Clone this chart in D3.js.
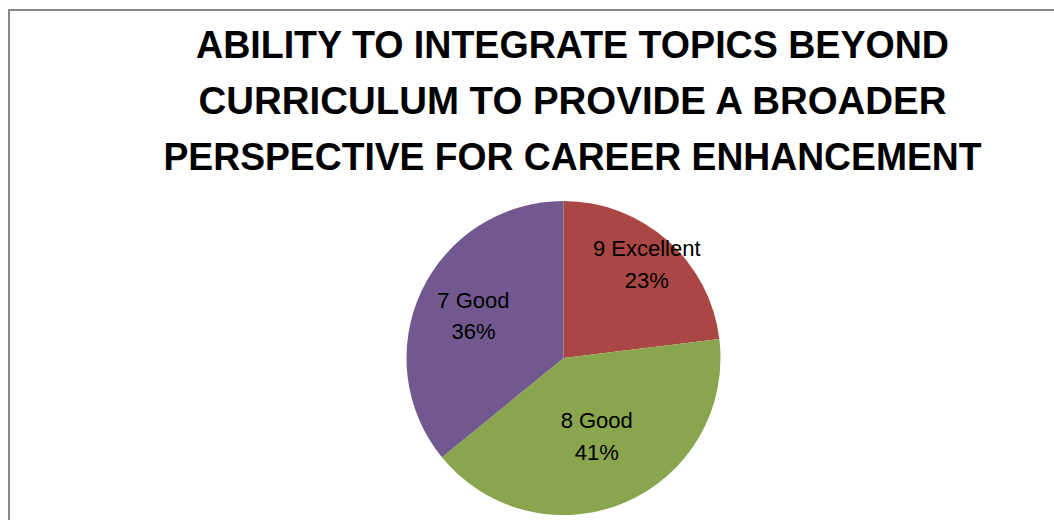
<!DOCTYPE html>
<html>
<head>
<meta charset="utf-8">
<script src="https://cdn.jsdelivr.net/npm/d3@7"></script>
<style>
  body { margin: 0; background: #fff; }
  svg { display: block; }
</style>
</head>
<body>
<div id="main"></div>
<script>

// data

const titleLines = [
    'ABILITY TO INTEGRATE TOPICS BEYOND',
    'CURRICULUM TO PROVIDE A BROADER',
    'PERSPECTIVE FOR CAREER ENHANCEMENT'
];

const categories = ['9 Excellent', '8 Good', '7 Good'];
const counts = [9, 16, 14];
const percentLabels = ['23%', '41%', '36%'];

const colors = ['#AA4643', '#89A54E', '#71588F'];

const w = 1054;
const h = 520;

// svg

const svg = d3.select('#main').append('svg').attr('width', w).attr('height', h);

// chart frame (runs off the right and bottom edge)
svg.append('rect')
    .attr('x', 9)
    .attr('y', 10)
    .attr('width', w + 20)
    .attr('height', h + 20)
    .attr('fill', 'none')
    .attr('stroke', '#878787')
    .attr('stroke-width', 2);

// title

const titleWidths = [753, 748, 818];
const titleBase = [57.7, 113.5, 170];

svg.append('g')
    .attr('class', 'title')
    .selectAll('text')
    .data(titleLines)
    .enter()
    .append('text')
    .attr('x', 572.5)
    .attr('y', (d, i) => titleBase[i])
    .attr('text-anchor', 'middle')
    .attr('font-family', '"Liberation Sans", Arial, sans-serif')
    .attr('font-weight', 'bold')
    .attr('font-size', 39)
    .attr('textLength', (d, i) => titleWidths[i])
    .attr('lengthAdjust', 'spacingAndGlyphs')
    .attr('fill', '#000')
    .text(d => d);

// pie

const cx = 563.5;
const cy = 358;
const radius = 157;

const pie = d3.pie().sort(null).value(d => d);
const arcs = pie(counts);

const arc = d3.arc().innerRadius(0).outerRadius(radius);

const g = svg.append('g').attr('transform', `translate(${cx},${cy})`);

g.selectAll('path')
    .data(arcs)
    .enter()
    .append('path')
    .attr('d', arc)
    .attr('fill', (d, i) => colors[i]);

// labels, placed like excel's best fit
const labelRadius = [0.80, 0.54, 0.635];

const labels = g.selectAll('text')
    .data(arcs)
    .enter()
    .append('text')
    .attr('transform', (d, i) => {
        const a = (d.startAngle + d.endAngle) / 2;
        const r = labelRadius[i] * radius;
        return `translate(${Math.sin(a) * r},${-Math.cos(a) * r})`;
    })
    .attr('text-anchor', 'middle')
    .attr('font-family', '"Liberation Sans", Arial, sans-serif')
    .attr('font-size', 22)
    .attr('fill', '#000');

labels.append('tspan')
    .attr('x', 0)
    .attr('y', -7.5)
    .text((d, i) => categories[i]);

labels.append('tspan')
    .attr('x', 0)
    .attr('y', 24)
    .text((d, i) => percentLabels[i]);

</script>
</body>
</html>
